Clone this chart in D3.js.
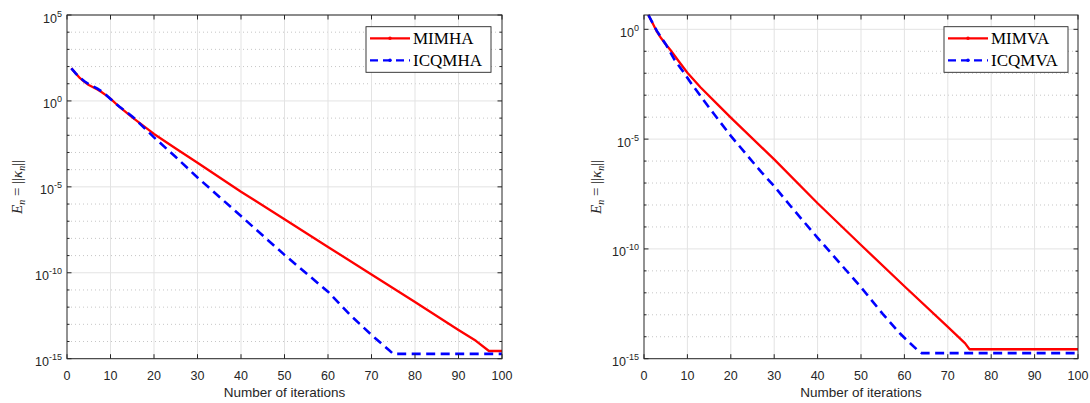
<!DOCTYPE html>
<html>
<head>
<meta charset="utf-8">
<script src="https://cdn.jsdelivr.net/npm/d3@7"></script>
<style>
  body { margin: 0; background: #fff; }
  svg { display: block; }
</style>
</head>
<body>
<div id="chart"></div>
<script>
// ---- data (iteration, error) ----
let leftIterMIMHA = [1, 2, 3, 4, 5, 6, 7, 8, 9, 10, 12, 15, 20, 25, 30, 40, 50, 60, 70, 80, 90, 94, 97, 100];
let leftValMIMHA = [79, 40, 21, 13, 8.5, 6.3, 4.6, 3.2, 2.1, 1.35, 0.46, 0.11, 1.2e-2, 1.7e-3, 2.5e-4,
  5.2e-6, 1.3e-7, 3.2e-9, 7.9e-11, 2.0e-12, 4.7e-14, 1.1e-14, 2.8e-15, 2.8e-15];

let leftIterICQMHA = [1, 2, 3, 4, 5, 6, 7, 8, 9, 10, 12, 15, 20, 25, 30, 40, 50, 60, 65, 70, 74, 75, 100];
let leftValICQMHA = [79, 40, 22, 14, 9.5, 7.1, 5.2, 3.5, 2.2, 1.3, 0.47, 0.126, 7.6e-3, 5.4e-4, 3.5e-5,
  2.0e-7, 1.1e-9, 7.9e-12, 3.7e-13, 2.4e-14, 3.2e-15, 1.9e-15, 1.9e-15];

let rightIterMIMVA = [1, 2, 3, 4, 5, 6, 8, 10, 13, 17, 20, 30, 40, 50, 60, 70, 74, 75, 100];
let rightValMIMVA = [4.5, 1.9, 0.76, 0.38, 0.21, 0.12, 3.5e-2, 1.05e-2, 2.3e-3, 3.7e-4, 9.5e-5,
  1.2e-6, 1.2e-8, 1.5e-10, 2.0e-12, 2.8e-14, 5.0e-15, 2.7e-15, 2.7e-15];

let rightIterICQMVA = [1, 2, 3, 5, 7, 9, 11, 14, 16, 20, 27, 30, 34, 40, 50, 55, 59, 61, 63, 64, 100];
let rightValICQMVA = [4.5, 1.9, 0.83, 0.21, 4.2e-2, 1.2e-2, 3.2e-3, 5.0e-4, 1.5e-4, 1.4e-5, 3.2e-7,
  7.2e-8, 7.9e-9, 3.2e-10, 1.8e-12, 1.1e-13, 1.4e-14, 5.8e-15, 2.5e-15, 1.8e-15, 1.8e-15];

let xTicks = [0, 10, 20, 30, 40, 50, 60, 70, 80, 90, 100];
let leftYTickExp = [5, 0, -5, -10, -15];
let rightYTickExp = [0, -5, -10, -15];
let leftLegend = ["MIMHA", "ICQMHA"];
let rightLegend = ["MIMVA", "ICQMVA"];

// ---- page ----
let svgWidth = 1090;
let svgHeight = 403;
let sansFont = "'Liberation Sans', Arial, Helvetica, sans-serif";
let serifFont = "'Liberation Serif', 'Times New Roman', serif";
let textColor = "#262626";

let svg = d3.select("#chart")
  .append("svg")
  .attr("width", svgWidth)
  .attr("height", svgHeight);

// draws one panel: axes box, grid, two series and legend
function drawPanel(cfg) {
  let x = d3.scaleLinear().domain([0, 100]).range([cfg.left, cfg.right]);
  let y = d3.scaleLog().domain([1e-15, cfg.yMax]).range([cfg.bottom, cfg.top]);

  let g = svg.append("g");

  // every decade inside the axes gets a dotted minor grid line
  let decades = d3.range(-15, Math.floor(Math.log10(cfg.yMax)) + 1).map(e => Math.pow(10, e));
  let minor = decades.filter(v => !cfg.yTickExp.includes(Math.round(Math.log10(v))));

  g.append("g").selectAll("line")
    .data(minor)
    .enter()
    .append("line")
      .attr("x1", cfg.left).attr("x2", cfg.right)
      .attr("y1", d => y(d)).attr("y2", d => y(d))
      .attr("stroke", "#b8b8b8")
      .attr("stroke-width", 0.8)
      .attr("stroke-dasharray", "1,3");

  // major grid
  g.append("g").selectAll("line")
    .data(cfg.yTickExp.map(e => Math.pow(10, e)))
    .enter()
    .append("line")
      .attr("x1", cfg.left).attr("x2", cfg.right)
      .attr("y1", d => y(d)).attr("y2", d => y(d))
      .attr("stroke", "#e3e3e3")
      .attr("stroke-width", 1);

  g.append("g").selectAll("line")
    .data(xTicks.slice(1, -1))
    .enter()
    .append("line")
      .attr("x1", d => x(d)).attr("x2", d => x(d))
      .attr("y1", cfg.top).attr("y2", cfg.bottom)
      .attr("stroke", "#e3e3e3")
      .attr("stroke-width", 1);

  // series
  let line = d3.line()
    .x(d => x(d[0]))
    .y(d => y(d[1]));

  let redData = cfg.redIter.map((it, i) => [it, cfg.redVal[i]]);
  let blueData = cfg.blueIter.map((it, i) => [it, cfg.blueVal[i]]);

  g.append("path")
    .datum(redData)
    .attr("d", line)
    .attr("fill", "none")
    .attr("stroke", "#ff0000")
    .attr("stroke-width", 2.3)
    .attr("stroke-linejoin", "round");

  g.append("path")
    .datum(blueData)
    .attr("d", line)
    .attr("fill", "none")
    .attr("stroke", "#0000ff")
    .attr("stroke-width", 2.6)
    .attr("stroke-dasharray", "9,5.5");

  // axes box + ticks
  g.append("rect")
    .attr("x", cfg.left).attr("y", cfg.top)
    .attr("width", cfg.right - cfg.left)
    .attr("height", cfg.bottom - cfg.top)
    .attr("fill", "none")
    .attr("stroke", textColor)
    .attr("stroke-width", 1);

  let xt = g.append("g").selectAll("g")
    .data(xTicks)
    .enter()
    .append("g");
  xt.append("line")
    .attr("x1", d => x(d)).attr("x2", d => x(d))
    .attr("y1", cfg.bottom).attr("y2", cfg.bottom - 4.5)
    .attr("stroke", textColor);
  xt.append("line")
    .attr("x1", d => x(d)).attr("x2", d => x(d))
    .attr("y1", cfg.top).attr("y2", cfg.top + 4.5)
    .attr("stroke", textColor);
  xt.append("text")
    .attr("x", d => x(d))
    .attr("y", cfg.bottom + 21.5)
    .attr("text-anchor", "middle")
    .attr("font-family", sansFont)
    .attr("font-size", 12.5)
    .attr("fill", textColor)
    .text(d => d);

  // y minor ticks on both sides
  g.append("g").selectAll("path")
    .data(minor)
    .enter()
    .append("path")
      .attr("d", d => `M${cfg.left},${y(d)}h2.5M${cfg.right},${y(d)}h-2.5`)
      .attr("stroke", textColor);

  let yt = g.append("g").selectAll("g")
    .data(cfg.yTickExp)
    .enter()
    .append("g");
  yt.append("path")
    .attr("d", d => `M${cfg.left},${y(Math.pow(10, d))}h4.5M${cfg.right},${y(Math.pow(10, d))}h-4.5`)
    .attr("stroke", textColor);
  let lbl = yt.append("text")
    .attr("x", cfg.left - 5)
    .attr("y", d => y(Math.pow(10, d)) + 7.5)
    .attr("text-anchor", "end")
    .attr("font-family", sansFont)
    .attr("font-size", 12.5)
    .attr("fill", textColor);
  lbl.append("tspan").text("10");
  lbl.append("tspan")
    .attr("font-size", 9)
    .attr("dy", -6)
    .text(d => d);

  // axis labels
  g.append("text")
    .attr("x", (cfg.left + cfg.right) / 2)
    .attr("y", 396.5)
    .attr("text-anchor", "middle")
    .attr("font-family", sansFont)
    .attr("font-size", 13.5)
    .attr("fill", textColor)
    .text("Number of iterations");

  let yl = g.append("text")
    .attr("transform", `translate(${cfg.ylabelX}, ${(cfg.top + cfg.bottom) / 2}) rotate(-90)`)
    .attr("text-anchor", "middle")
    .attr("font-family", serifFont)
    .attr("font-size", 15)
    .attr("fill", textColor);
  yl.append("tspan").attr("font-style", "italic").text("E");
  yl.append("tspan").attr("font-style", "italic").attr("font-size", 10).attr("dy", 3).text("n");
  yl.append("tspan").attr("dy", -3).text(" = ||");
  yl.append("tspan").attr("font-style", "italic").text("\u03BA");
  yl.append("tspan").attr("font-style", "italic").attr("font-size", 10).attr("dy", 3).text("n");
  yl.append("tspan").attr("dy", -3).text("||");

  // legend
  let lg = g.append("g");
  lg.append("rect")
    .attr("x", cfg.legX).attr("y", 26.7)
    .attr("width", cfg.legW).attr("height", 45.6)
    .attr("fill", "#fff")
    .attr("stroke", textColor)
    .attr("stroke-width", 0.9);

  let rows = [
    { name: cfg.names[0], color: "#ff0000", dash: null, yy: 38.3 },
    { name: cfg.names[1], color: "#0000ff", dash: "8,5", yy: 60.3 }
  ];
  rows.forEach(r => {
    lg.append("line")
      .attr("x1", cfg.legX + 4).attr("x2", cfg.legX + 44)
      .attr("y1", r.yy).attr("y2", r.yy)
      .attr("stroke", r.color)
      .attr("stroke-width", 2.3)
      .attr("stroke-dasharray", r.dash);
    lg.append("circle")
      .attr("cx", cfg.legX + 24).attr("cy", r.yy)
      .attr("r", 1.8)
      .attr("fill", r.color);
    lg.append("text")
      .attr("x", cfg.legX + 47)
      .attr("y", r.yy + 5.8)
      .attr("font-family", serifFont)
      .attr("font-size", 17)
      .attr("fill", "#000")
      .text(r.name);
  });
}

drawPanel({
  left: 67, right: 502, top: 15, bottom: 358.7,
  yMax: 1e5, yTickExp: leftYTickExp,
  redIter: leftIterMIMHA, redVal: leftValMIMHA,
  blueIter: leftIterICQMHA, blueVal: leftValICQMHA,
  names: leftLegend, legX: 366, legW: 125, ylabelX: 22
});

drawPanel({
  left: 644, right: 1078, top: 15, bottom: 358.7,
  yMax: 4.49, yTickExp: rightYTickExp,
  redIter: rightIterMIMVA, redVal: rightValMIMVA,
  blueIter: rightIterICQMVA, blueVal: rightValICQMVA,
  names: rightLegend, legX: 944, legW: 124, ylabelX: 601
});
</script>
</body>
</html>
